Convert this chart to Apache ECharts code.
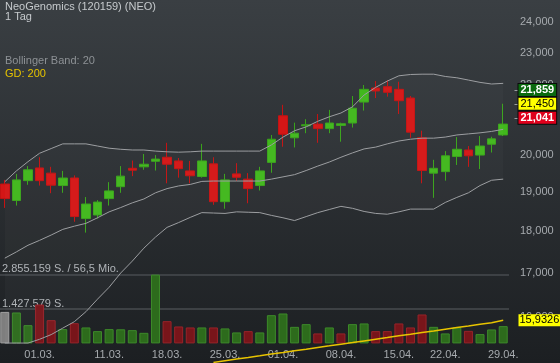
<!DOCTYPE html>
<html><head><meta charset="utf-8">
<script src="https://cdn.jsdelivr.net/npm/echarts@6/dist/echarts.min.js"></script>
<style>html,body{margin:0;padding:0;background:#2b2f33}#c{width:560px;height:363px}</style>
</head><body><div id="c"></div>
<script>
const dates = ['26.02.','27.02.','28.02.','01.03.','04.03.','05.03.','06.03.','07.03.','08.03.','11.03.','12.03.','13.03.','14.03.','15.03.','18.03.','19.03.','20.03.','21.03.','22.03.','25.03.','26.03.','27.03.','28.03.','29.03.','01.04.','02.04.','03.04.','04.04.','05.04.','08.04.','09.04.','10.04.','11.04.','12.04.','15.04.','16.04.','17.04.','18.04.','22.04.','23.04.','24.04.','25.04.','26.04.','29.04.'];
const dateLabels = ['01.03.','11.03.','18.03.','25.03.','01.04.','08.04.','15.04.','22.04.','29.04.'];
const open  = [19.21,18.78,19.30,19.64,19.50,19.17,19.37,18.32,18.41,18.83,19.14,19.63,19.67,19.82,19.93,19.83,19.56,19.41,19.75,18.75,19.48,19.34,19.17,19.79,21.10,20.47,20.81,20.86,20.73,20.82,20.89,21.50,21.92,21.96,21.88,21.62,20.47,19.50,19.54,19.95,20.13,19.99,20.29,20.55];
const close = [18.83,19.32,19.59,19.30,19.18,19.37,18.37,18.69,18.74,19.03,19.42,19.58,19.74,19.88,19.74,19.62,19.43,19.83,18.75,19.32,19.39,19.09,19.56,20.43,20.57,20.60,20.84,20.73,20.89,20.87,21.32,21.88,21.83,21.79,21.54,20.63,19.57,19.63,19.97,20.15,19.97,20.24,20.44,20.86];
const low   = [18.59,18.65,19.19,19.17,18.97,18.98,18.24,17.97,18.32,18.65,18.98,19.42,19.59,19.57,19.23,19.38,19.23,19.38,18.67,18.57,19.29,18.71,19.04,19.51,20.22,20.20,20.60,20.33,20.60,20.36,20.76,21.25,21.62,21.66,21.15,20.47,19.23,18.85,19.30,19.72,19.67,19.61,20.06,20.52];
const high  = [19.32,19.48,19.69,19.93,19.67,19.56,19.44,18.87,18.79,19.26,19.69,19.84,20.02,19.99,20.33,19.91,19.83,20.30,19.93,19.48,19.77,19.50,19.67,20.55,21.42,20.90,21.00,21.15,21.27,20.90,21.68,22.01,22.13,22.16,22.11,21.68,20.67,19.86,20.10,20.49,20.24,20.52,20.50,21.45];
const volume = [1307600,1283000,757000,1614000,964000,592000,840000,662000,509000,592000,585000,550000,439000,2855159,923000,703000,662000,662000,662000,621000,455000,509000,455000,1171000,1241000,687000,799000,414000,662000,414000,799000,828000,509000,509000,828000,662000,1200000,687000,414000,662000,521000,385000,579000,716000];
const bbUpper  = [19.27,19.56,19.81,20.04,20.17,20.30,20.30,20.30,20.24,20.18,20.15,20.13,20.13,20.10,20.08,20.07,20.08,20.10,20.10,20.10,20.10,20.10,20.10,20.27,20.49,20.67,20.78,20.94,21.07,21.18,21.36,21.71,21.94,22.13,22.29,22.33,22.34,22.34,22.27,22.23,22.16,22.09,22.04,22.06];
const bbMiddle = [17.35,17.50,17.66,17.78,17.91,18.05,18.13,18.20,18.34,18.49,18.60,18.72,18.82,18.98,19.09,19.16,19.20,19.28,19.29,19.29,19.29,19.29,19.29,19.34,19.40,19.46,19.57,19.69,19.80,19.93,20.05,20.16,20.21,20.30,20.38,20.43,20.46,20.46,20.49,20.55,20.58,20.61,20.65,20.71];
const bbLower  = [15.44,15.44,15.44,15.52,15.62,15.76,15.90,16.12,16.40,16.67,17.00,17.28,17.59,17.86,18.10,18.22,18.35,18.47,18.46,18.45,18.49,18.48,18.47,18.40,18.34,18.27,18.37,18.47,18.55,18.63,18.58,18.50,18.45,18.43,18.49,18.56,18.56,18.56,18.73,18.86,18.98,19.17,19.31,19.34];
const gd200 = [null,null,null,null,null,null,null,null,null,null,null,null,null,null,null,null,null,null,15.035,15.069,15.104,15.137,15.172,15.208,15.242,15.277,15.311,15.347,15.381,15.417,15.450,15.486,15.522,15.557,15.594,15.628,15.664,15.698,15.735,15.772,15.807,15.844,15.878,15.9326];
const priceTicks = [16,17,18,19,20,21,22,23,24];
const quoteLabels = [21.859,21.450,21.041];
const gdLast = 15.9326;
const volMax = 2855159;
const volTickLabels = ['', '1.427.579 S.', '2.855.159 S. / 56,5 Mio.'];

const L = v => v == null ? null : Math.log10(v);
const yMin = 1.17675, yMax = 1.39334;
const FONT = 'Liberation Sans, Arial, sans-serif';

const candleData = open.map((o, i) => [L(o), L(close[i]), L(low[i]), L(high[i])]);
const volData = volume.map((v, i) => {
  let c, b;
  if (i === 0) { c = '#7e7e7e'; b = '#a0a0a0'; }
  else if (close[i] >= close[i-1]) { c = '#2d6b1c'; b = '#3d8a2a'; }
  else { c = '#78151a'; b = '#982329'; }
  return { value: v, itemStyle: { color: c, borderColor: b, borderWidth: 1 } };
});
const lowerLog = bbLower.map(L);
const diffLog = bbUpper.map((u, i) => L(u) - L(bbLower[i]));

const fmtPrice = v => Math.pow(10, v).toFixed(3).replace('.', ',');

const boxStyles = [
  { backgroundColor: '#0b6a0f', color: '#ffffff', borderColor: '#0a0a0a', borderWidth: 1, padding: [1, 2, 0, 2], fontWeight: 'bold' },
  { backgroundColor: '#ffff00', color: '#000000', borderColor: '#0a0a0a', borderWidth: 1, padding: [1, 2, 0, 2], fontWeight: 'normal' },
  { backgroundColor: '#e0001c', color: '#ffffff', borderColor: '#0a0a0a', borderWidth: 1, padding: [1, 2, 0, 2], fontWeight: 'bold' }
];

function labelAxis(value, text, style, withTick) {
  return {
    type: 'value', gridIndex: 0, position: 'right', offset: 5.5, min: yMin, max: yMax, scale: true, z: 10,
    axisLine: { show: false }, splitLine: { show: false },
    axisTick: { show: withTick, customValues: [L(value)], length: 4, lineStyle: { color: '#9a9ea2', width: 1 } },
    axisLabel: { customValues: [L(value)], margin: 4, fontSize: 11, lineHeight: 11, fontFamily: FONT,
      showMinLabel: true, showMaxLabel: true, hideOverlap: false,
      formatter: () => text,
      color: style.color, fontWeight: style.fontWeight || 'normal',
      backgroundColor: style.backgroundColor, borderColor: style.borderColor, borderWidth: style.borderWidth || 0,
      padding: style.padding }
  };
}

const yAxes = [
  { type: 'value', gridIndex: 0, position: 'right', min: yMin, max: yMax, scale: true,
    axisLine: { show: false }, axisTick: { show: false }, splitLine: { show: false },
    axisLabel: { customValues: priceTicks.map(L), color: '#a6aaae', fontSize: 11, fontFamily: FONT, margin: 11,
      showMinLabel: true, showMaxLabel: true, hideOverlap: false, formatter: fmtPrice } }
];
quoteLabels.forEach((q, i) => yAxes.push(labelAxis(q, q.toFixed(3).replace('.', ','), boxStyles[i], true)));
yAxes.push(labelAxis(gdLast, gdLast.toFixed(4).replace('.', ','),
  { backgroundColor: '#ffff00', color: '#000000', padding: [1, 1, 0, 1] }, false));
const volAxisIndex = yAxes.length;
yAxes.push({ type: 'value', gridIndex: 1, position: 'left', min: 0, max: volMax, interval: volMax / 2,
  axisLine: { show: false }, axisTick: { show: false },
  splitLine: { show: true, lineStyle: { color: ['rgba(0,0,0,0)', '#474b4f', '#474b4f'], width: 1.5 } },
  axisLabel: { inside: true, margin: 3, color: '#aeb2b6', fontSize: 11, fontFamily: FONT, verticalAlign: 'bottom',
    showMinLabel: true, showMaxLabel: true,
    formatter: (v) => volTickLabels[Math.round(v / (volMax / 2))] || '' } });

const chart = echarts.init(document.getElementById('c'), null, { renderer: 'canvas' });
chart.setOption({
  animation: false,
  backgroundColor: { type: 'linear', x: 0, y: 0, x2: 0, y2: 1, colorStops: [
    { offset: 0, color: '#3a3f43' }, { offset: 1, color: '#1c1f22' } ] },
  textStyle: { fontFamily: FONT },
  title: [
    { text: 'NeoGenomics (120159) (NEO)', left: 5, top: 1, padding: 0, textStyle: { color: '#c6cacd', fontSize: 11, fontWeight: 'normal', fontFamily: FONT } },
    { text: '1 Tag', left: 5, top: 11, padding: 0, textStyle: { color: '#c6cacd', fontSize: 11, fontWeight: 'normal', fontFamily: FONT } },
    { text: 'Bollinger Band: 20', left: 5, top: 55, padding: 0, textStyle: { color: '#8d9195', fontSize: 11, fontWeight: 'normal', fontFamily: FONT } },
    { text: 'GD: 200', left: 5, top: 68, padding: 0, textStyle: { color: '#e6c300', fontSize: 11, fontWeight: 'normal', fontFamily: FONT } }
  ],
  grid: [
    { left: -1, right: 51, top: 0, height: 363, outerBoundsMode: 'none' },
    { left: -1, right: 51, top: 274.6, height: 68.8, outerBoundsMode: 'none' }
  ],
  xAxis: [
    { type: 'category', gridIndex: 0, data: dates, boundaryGap: true, show: false },
    { type: 'category', gridIndex: 1, data: dates, boundaryGap: true,
      axisLine: { show: false }, axisTick: { show: false }, splitLine: { show: false },
      axisLabel: { color: '#a6aaae', fontSize: 11, fontFamily: FONT, margin: 6, hideOverlap: false,
        interval: (idx, val) => dateLabels.includes(val) } }
  ],
  yAxis: yAxes,
  series: [
    { type: 'bar', xAxisIndex: 1, yAxisIndex: volAxisIndex, data: volData, barWidth: 9, silent: true },
    { type: 'line', xAxisIndex: 0, yAxisIndex: 0, data: lowerLog, stack: 'bb', symbol: 'none', silent: true,
      lineStyle: { opacity: 0 } },
    { type: 'line', xAxisIndex: 0, yAxisIndex: 0, data: diffLog, stack: 'bb', symbol: 'none', silent: true,
      lineStyle: { opacity: 0 }, areaStyle: { color: 'rgba(255,255,255,0.035)' } },
    { type: 'line', xAxisIndex: 0, yAxisIndex: 0, data: bbUpper.map(L), symbol: 'none', silent: true,
      lineStyle: { color: '#9c9ea1', width: 1 } },
    { type: 'line', xAxisIndex: 0, yAxisIndex: 0, data: bbMiddle.map(L), symbol: 'none', silent: true,
      lineStyle: { color: '#9c9ea1', width: 1 } },
    { type: 'line', xAxisIndex: 0, yAxisIndex: 0, data: bbLower.map(L), symbol: 'none', silent: true,
      lineStyle: { color: '#9c9ea1', width: 1 } },
    { type: 'candlestick', xAxisIndex: 0, yAxisIndex: 0, data: candleData, barWidth: 9, silent: true,
      itemStyle: { color: '#41b81c', color0: '#d41616', borderColor: '#39a31a', borderColor0: '#c41212', borderWidth: 1 } },
    { type: 'line', xAxisIndex: 0, yAxisIndex: 0, data: gd200.map(L), symbol: 'none', silent: true,
      lineStyle: { color: '#e8c400', width: 1.5 } }
  ]
});
</script></body></html>
